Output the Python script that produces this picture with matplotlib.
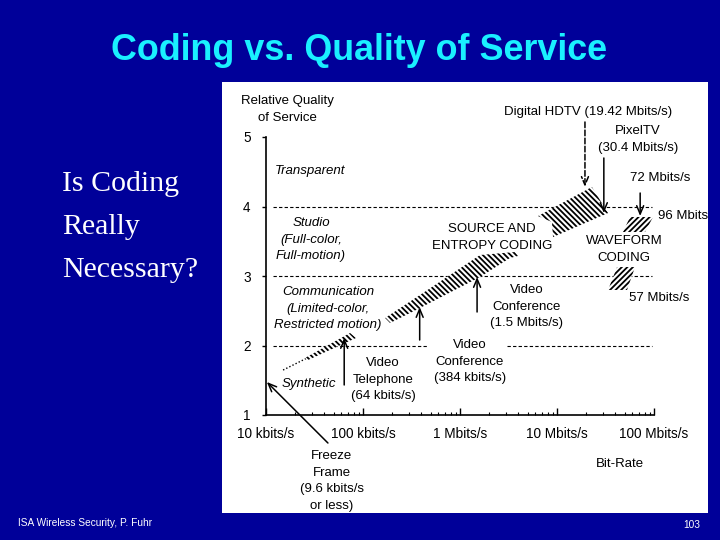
import numpy as np
import matplotlib
matplotlib.use("Agg")
import matplotlib.pyplot as plt
from matplotlib.patches import Polygon
from matplotlib.ticker import FixedLocator, NullFormatter

# ---------------- data ----------------
x_ticks = [1e4, 1e5, 1e6, 1e7, 1e8]
x_tick_labels = ["10 kbits/s", "100 kbits/s", "1 Mbits/s", "10 Mbits/s", "100 Mbits/s"]
y_ticks = [1, 2, 3, 4, 5]

# quality boundaries (dashed), as (quality, start bit-rate, end bit-rate)
boundary_q = [4, 3, 2, 2]
boundary_x0 = [11.8e3, 11.8e3, 11.8e3, 3.05e6]
boundary_x1 = [95e6, 95e6, 457e3, 95e6]

# synthetic (dotted) segment
synth_rate = [15.0e3, 26.5e3]
synth_q = [1.647, 1.820]

# source & entropy coding bands (bit-rate, quality)
band_a_rate = [25.2e3, 73.5e3, 84.7e3, 27.1e3]
band_a_q = [1.820, 2.180, 2.108, 1.791]

band_b_rate = [169e3, 387e3, 1.61e6, 3.69e6, 3.96e6, 3.27e6, 1.61e6, 387e3, 190e3]
band_b_q = [2.396, 2.727, 3.302, 3.345, 3.288, 3.259, 2.986, 2.540, 2.324]

band_c_rate = [6.37e6, 22.9e6, 33.6e6, 9.1e6, 8.87e6]
band_c_q = [3.863, 4.281, 3.906, 3.561, 3.777]

# waveform coding bands
wave_hi_rate = [56.6e6, 97.7e6, 80.8e6, 47.9e6]
wave_hi_q = [3.849, 3.849, 3.633, 3.633]
wave_lo_rate = [41.6e6, 63.7e6, 52.7e6, 33.6e6]
wave_lo_q = [3.129, 3.129, 2.799, 2.799]

# vertical pointer arrows: (bit-rate, tail quality, tip quality)
ptr_rate = [64e3, 384e3, 1.5e6, 19.42e6, 30.4e6, 72e6]
ptr_q0 = [1.432, 2.079, 2.482, 5.216, 4.698, 4.194]
ptr_q1 = [2.108, 2.554, 2.986, 4.281, 3.906, 3.863]
ptr_dashed = [False, False, False, True, False, False]

# freeze-frame arrow (tail -> tip)
freeze_rate = [43.5e3, 10.2e3]
freeze_q = [0.597, 1.475]

# ---------------- layout ----------------
W, H = 720, 540
BG = "#000099"
plt.rcParams["hatch.linewidth"] = 1.3
fig = plt.figure(figsize=(W / 100, H / 100), dpi=100, facecolor=BG)

px_left, px_right, px_top, px_bot = 222, 708, 82, 513
ax_x0, ax_x1 = 266, 654      # pixel of 1e4 and 1e8
ax_y1, ax_y5 = 415, 137      # pixel of q=1 and q=5
ppd = (ax_x1 - ax_x0) / 4.0
ppu = (ax_y1 - ax_y5) / 4.0

ax = fig.add_axes([px_left / W, 1 - px_bot / H, (px_right - px_left) / W, (px_bot - px_top) / H])
ax.set_facecolor("white")
ax.set_xscale("log")
ax.set_xlim(10 ** (4 - (ax_x0 - px_left) / ppd), 10 ** (8 + (px_right - ax_x1) / ppd))
ax.set_ylim(1 - (px_bot - ax_y1) / ppu, 5 + (ax_y5 - px_top) / ppu)

for s in ["top", "right"]:
    ax.spines[s].set_visible(False)
ax.spines["left"].set_bounds(1, 5)
ax.spines["bottom"].set_bounds(1e4, 1e8)
ax.spines["left"].set_position(("data", 1e4))
ax.spines["bottom"].set_position(("data", 1))
for s in ["left", "bottom"]:
    ax.spines[s].set_linewidth(1.2)

FONT = "Liberation Sans"
FS = 9.5

ax.xaxis.set_major_locator(FixedLocator(x_ticks))
ax.set_xticklabels(x_tick_labels, fontfamily=FONT, fontsize=9.8)
minors = [m * 10 ** e for e in range(4, 8) for m in range(2, 10)]
ax.xaxis.set_minor_locator(FixedLocator(minors))
ax.xaxis.set_minor_formatter(NullFormatter())
ax.tick_params(axis="x", which="major", direction="in", length=5, width=1, pad=8.5)
ax.tick_params(axis="x", which="minor", direction="in", length=2.5, width=0.8)
ax.set_yticks(y_ticks)
ax.set_yticklabels([str(v) for v in y_ticks], fontfamily=FONT, fontsize=9.8)
ax.tick_params(axis="y", which="major", direction="out", length=3, width=1, pad=8)

# dashed boundaries
for q, x0, x1 in zip(boundary_q, boundary_x0, boundary_x1):
    ax.plot([x0, x1], [q, q], color="black", lw=0.8, dashes=(3, 2), zorder=1)

# synthetic dotted
ax.plot(synth_rate, synth_q, color="black", lw=1.0, ls=(0, (1, 1.5)), zorder=2)

def band(rates, qs, hatch):
    p = Polygon(np.column_stack([rates, qs]), closed=True, facecolor="white",
                edgecolor="black", lw=0, hatch=hatch, zorder=3)
    ax.add_patch(p)

band(band_a_rate, band_a_q, "\\" * 6)
band(band_b_rate, band_b_q, "\\" * 6)
band(band_c_rate, band_c_q, "\\" * 6)
band(wave_hi_rate, wave_hi_q, "/" * 6)
band(wave_lo_rate, wave_lo_q, "/" * 6)

# arrows
for r, q0, q1, d in zip(ptr_rate, ptr_q0, ptr_q1, ptr_dashed):
    ax.annotate("", xy=(r, q1), xytext=(r, q0),
                arrowprops=dict(arrowstyle="->,head_length=0.6,head_width=0.25",
                                lw=1.1, color="black", ls="--" if d else "-",
                                shrinkA=0, shrinkB=0), zorder=4)
ax.annotate("", xy=(freeze_rate[1], freeze_q[1]), xytext=(freeze_rate[0], freeze_q[0]),
            arrowprops=dict(arrowstyle="->,head_length=0.6,head_width=0.25",
                            lw=1.1, color="black", shrinkA=0, shrinkB=0),
            annotation_clip=False, zorder=4)

# panel text (pixel placement)
def ptxt(x, y, lines, step=16.7, italic=False, ha="center", clip=False, fs=FS):
    for i, ln in enumerate(lines):
        t = fig.text(x / W, 1 - (y + i * step) / H, ln, ha=ha, va="center",
                     fontfamily=FONT, fontsize=fs, color="black",
                     fontstyle="italic" if italic else "normal")
        if clip:
            t.set_clip_on(True)
            t.set_clip_box(ax.bbox)

ptxt(287, 101, ["Relative Quality", "of Service"])
ptxt(310, 171, ["Transparent"], italic=True)
ptxt(311, 223, ["Studio", "(Full-color,", "Full-motion)"], italic=True)
ptxt(328, 292, ["Communication", "(Limited-color,", "Restricted motion)"], italic=True)
ptxt(309, 384, ["Synthetic"], italic=True)
ptxt(383, 363, ["Video", "Telephone", "(64 kbits/s)"])
ptxt(470, 345, ["Video", "Conference", "(384 kbits/s)"])
ptxt(527, 290, ["Video", "Conference", "(1.5 Mbits/s)"])
ptxt(492, 229, ["SOURCE AND", "ENTROPY CODING"])
ptxt(624, 241, ["WAVEFORM", "CODING"])
ptxt(588, 112, ["Digital HDTV (19.42 Mbits/s)"])
ptxt(638, 131, ["PixelTV", "(30.4 Mbits/s)"])
ptxt(660, 178, ["72 Mbits/s"])
ptxt(658, 216, ["96 Mbits/s"], ha="left", clip=True)
ptxt(659, 298, ["57 Mbits/s"])
ptxt(332, 456, ["Freeze", "Frame", "(9.6 kbits/s", "or less)"])
ptxt(620, 464, ["Bit-Rate"])

# slide text
fig.text(359 / W, 1 - 51 / H, "Coding vs. Quality of Service", ha="center", va="center",
         fontfamily=FONT, fontweight="bold", fontsize=25.8, color="#1AF0FF")
for i, ln in enumerate(["Is Coding", "Really", "Necessary?"]):
    fig.text(62 / W, 1 - (191 + i * 43) / H, ln, ha="left", va="baseline",
             fontfamily="Liberation Serif", fontsize=21.5, color="white")
fig.text(18 / W, 1 - 523 / H, "ISA Wireless Security, P. Fuhr", ha="left", va="center",
         fontfamily=FONT, fontsize=7.3, color="white")
fig.text(692 / W, 1 - 525 / H, "103", ha="center", va="center",
         fontfamily=FONT, fontsize=7.3, color="white")

fig.savefig("out.png", dpi=100, facecolor=BG)
